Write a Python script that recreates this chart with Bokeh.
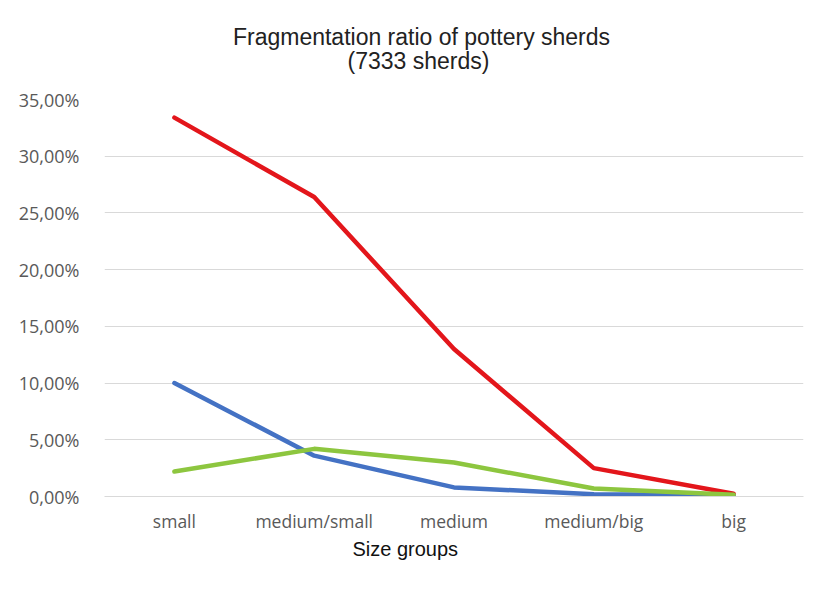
from bokeh.plotting import figure
from bokeh.layouts import column
from bokeh.models import (FactorRange, CustomJSTickFormatter, Legend, LegendItem,
                          Label, Title, FixedTicker, Range1d)
from bokeh.embed import file_html
from bokeh.resources import INLINE

categories = ["small", "medium/small", "medium", "medium/big", "big"]
thin = [10.0, 3.6, 0.8, 0.2, 0.1]          # th. < 7mm
mid = [33.4, 26.4, 13.0, 2.5, 0.25]        # 7 < th. < 14 mm
thick = [2.2, 4.2, 3.0, 0.7, 0.15]         # th. > 14 mm
series_names = ["th. < 7mm", "7 < th. < 14 mm", "th. > 14 mm"]
legend_title = "Thickness-groups"
y_ticks = [0, 5, 10, 15, 20, 25, 30, 35]

FONT = "Liberation Sans"
TICKFONT = "Open Sans"
colors = ["#4472C4", "#E3161B", "#8DC63F"]
W = 818

# ---- title strip (its frame is aligned with the chart frame below)
top = figure(width=W, height=78, x_range=Range1d(0, 699), y_range=Range1d(0, 78),
             x_axis_type=None, y_axis_type=None, output_backend="svg", toolbar_location=None,
             min_border=0)
top.grid.visible = False
top.outline_line_color = None
for text, x, y in [("Fragmentation ratio of pottery sherds", 317, 42), ("(7333 sherds)", 314, 18)]:
    top.add_layout(Label(text=text, x=x, y=y, x_units="screen", y_units="screen",
                         text_align="center", text_baseline="middle", text_font=FONT,
                         text_font_size="23px", text_color="#222222"))

# ---- main chart
p = figure(frame_width=699, frame_height=397,
           x_range=FactorRange(*categories), y_range=Range1d(0, 35),
           output_backend="svg", toolbar_location=None,
           min_border_left=104, min_border_right=15, min_border_top=21, min_border_bottom=10)
p.x_range.factor_padding = 0
p.x_range.range_padding = 0

renderers = []
for vals, c in zip([thin, mid, thick], colors):
    renderers.append(p.line(categories, vals, line_color=c, line_width=4.5,
                            line_join="round", line_cap="round"))
title_key = p.line(x=[], y=[], line_alpha=0)   # no glyph for the legend's title entry

p.yaxis.ticker = FixedTicker(ticks=y_ticks)
p.yaxis.formatter = CustomJSTickFormatter(code="return tick.toFixed(2).replace('.', ',') + '%';")
p.yaxis.axis_line_color = None
p.yaxis.major_tick_line_color = None
p.yaxis.minor_tick_line_color = None
p.yaxis.major_label_text_font = TICKFONT
p.yaxis.major_label_text_font_size = "18px"
p.yaxis.major_label_text_color = "#595959"
p.yaxis.major_label_standoff = 19

p.xaxis.axis_line_color = "#d9d9d9"
p.xaxis.major_tick_line_color = None
p.xaxis.major_tick_out = 0
p.xaxis.major_label_text_font = TICKFONT
p.xaxis.major_label_text_font_size = "17.5px"
p.xaxis.major_label_text_color = "#595959"
p.xaxis.major_label_standoff = 12

p.xgrid.grid_line_color = None
p.ygrid.grid_line_color = "#d9d9d9"
p.outline_line_color = None

p.add_layout(Title(text="Size groups", align="left", offset=248, standoff=0,
                   text_font=FONT, text_font_size="20px", text_font_style="normal",
                   text_color="#111111", text_line_height=1.0), "below")

items = [LegendItem(label=legend_title, renderers=[title_key])]
items += [LegendItem(label=n, renderers=[r]) for n, r in zip(series_names, renderers)]
legend = Legend(items=items, orientation="horizontal", location=(-133, 25),
                label_text_font=FONT, label_text_font_size="19px", label_text_color="#222222",
                glyph_width=48, glyph_height=14, label_standoff=1, spacing=26,
                border_line_color=None, background_fill_alpha=0, margin=0, padding=2)
p.add_layout(legend, "below")

layout = column(top, p, spacing=0)
open("out.html", "w").write(file_html(layout, INLINE))
